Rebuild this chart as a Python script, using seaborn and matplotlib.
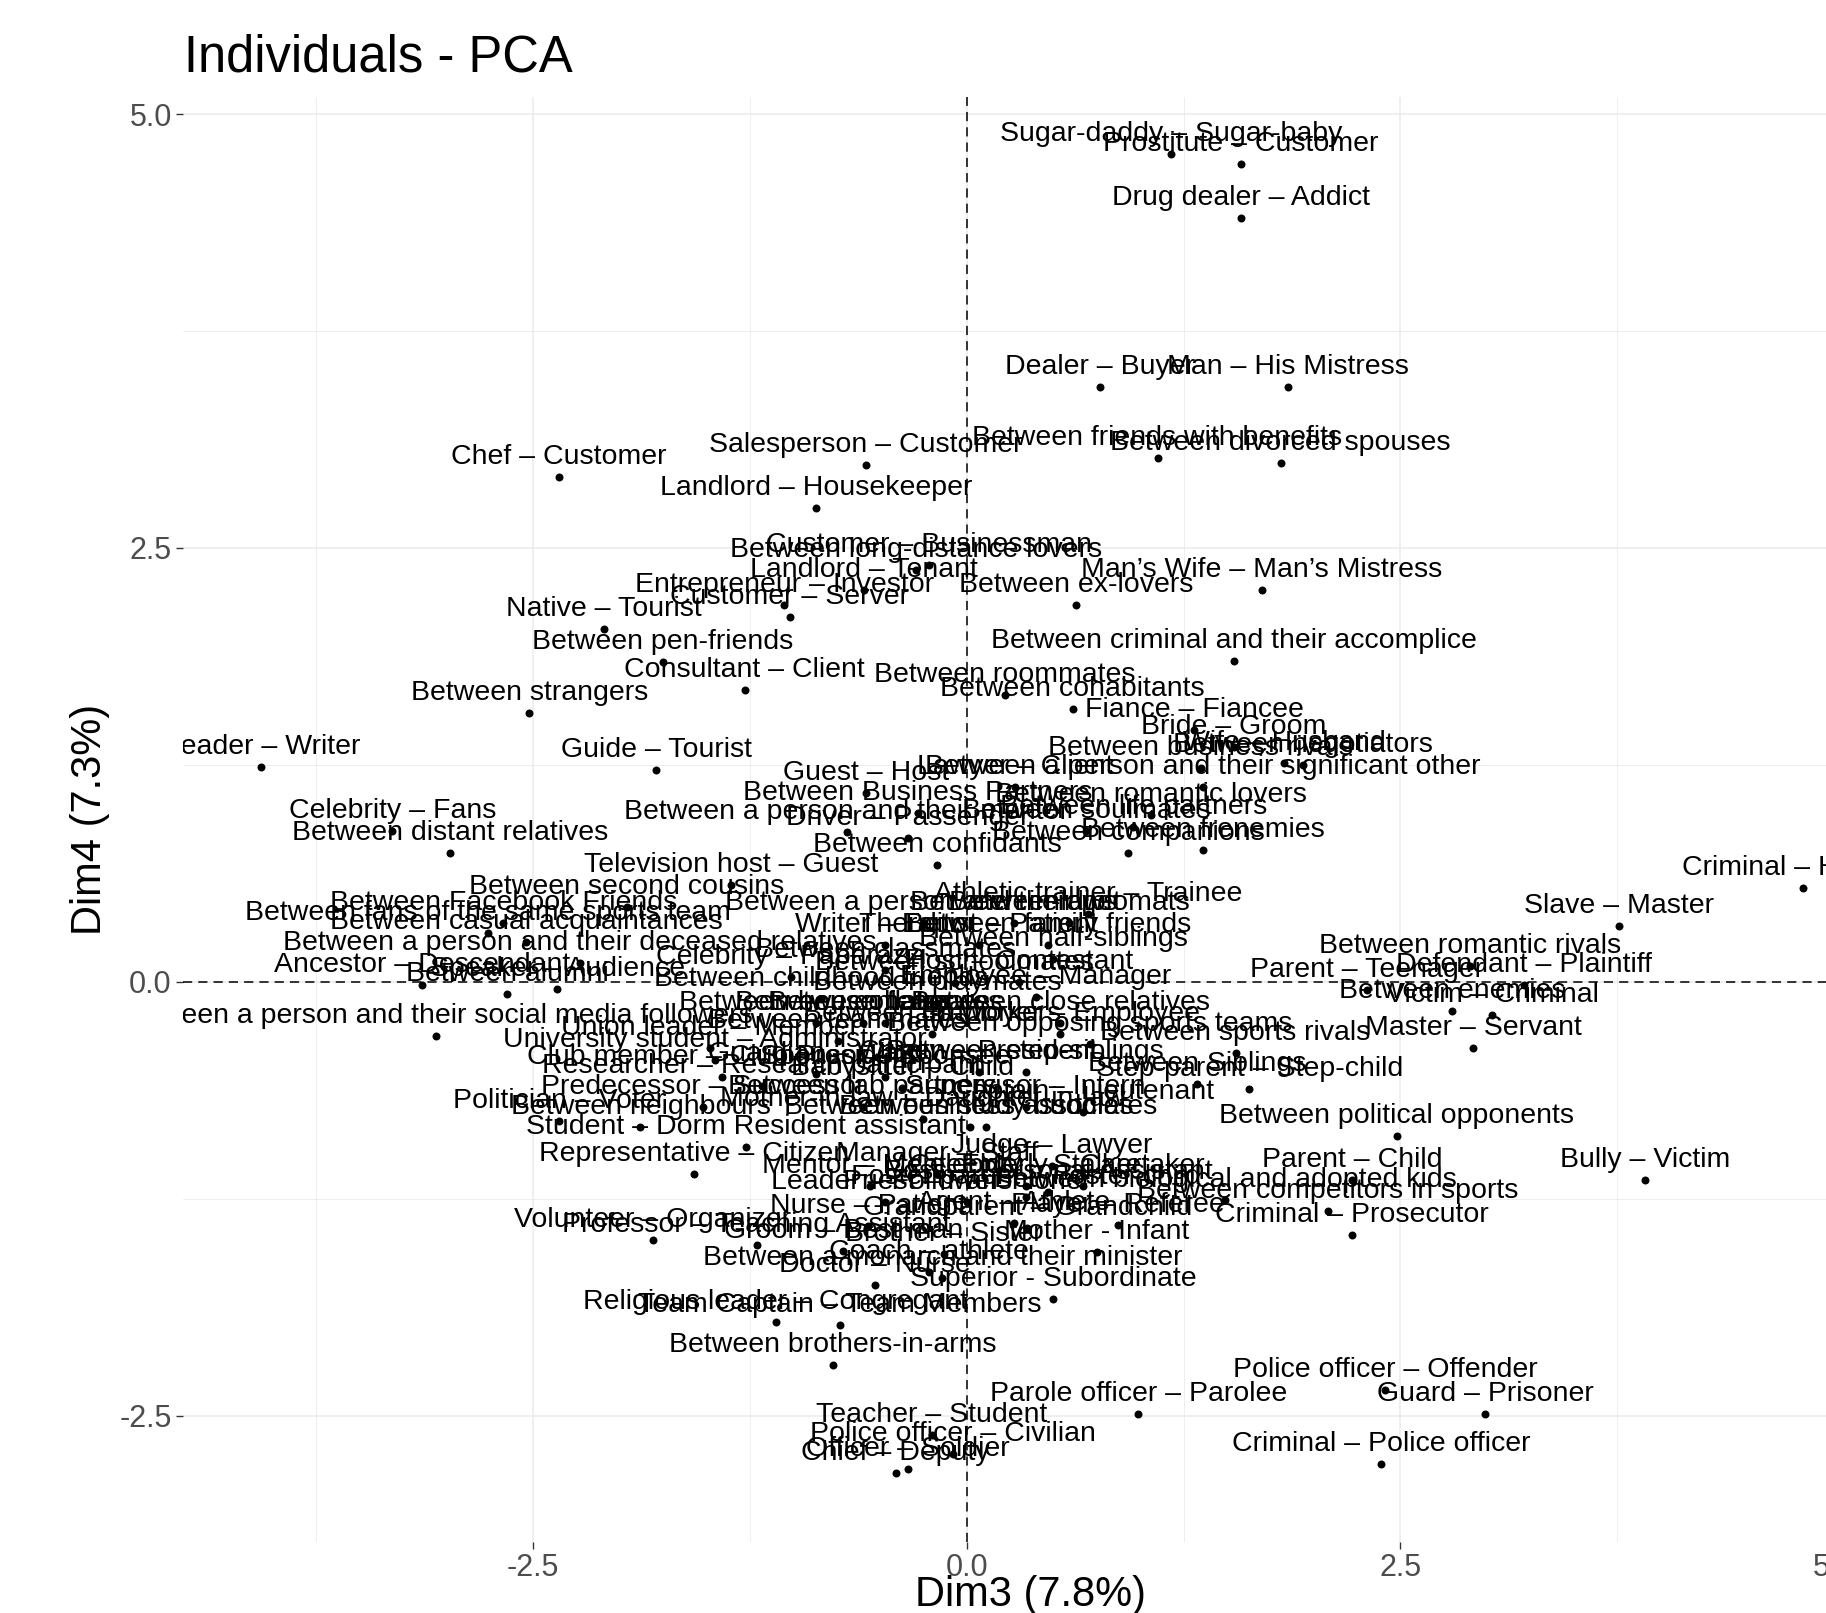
import matplotlib
matplotlib.use("Agg")
import matplotlib.pyplot as plt
import matplotlib.transforms as mtransforms
from matplotlib.ticker import MultipleLocator
import numpy as np
import pandas as pd
import seaborn as sns

sns.set_theme(style="white")
plt.rcParams['font.family'] = ['Liberation Sans', 'DejaVu Sans']

# relaciones y coordenadas en Dim3 / Dim4
relaciones = [
    "Sugar-daddy – Sugar-baby", "Prostitute – Customer", "Drug dealer – Addict",
    "Dealer – Buyer", "Man – His Mistress", "Between friends with benefits",
    "Between divorced spouses", "Chef – Customer", "Salesperson – Customer",
    "Landlord – Housekeeper", "Customer – Businessman", "Between long-distance lovers",
    "Landlord – Tenant", "Man’s Wife – Man’s Mistress", "Between ex-lovers",
    "Entrepreneur – Investor", "Customer – Server", "Native – Tourist",
    "Between pen-friends", "Between criminal and their accomplice", "Consultant – Client",
    "Between roommates", "Between cohabitants", "Between strangers",
    "Fiance – Fiancee", "Bride – Groom", "Reader – Writer",
    "Guide – Tourist", "Between business rivals", "Between negotiators",
    "Wife – Husband", "Between a person and their significant other", "Lawyer – Client",
    "Guest – Host", "Between Business Partners", "Between romantic lovers",
    "Between soulmates", "Between life partners", "Celebrity – Fans",
    "Between a person and their mentor", "Driver – Passenger", "Between companions",
    "Between frenemies", "Between distant relatives", "Between confidants",
    "Television host – Guest", "Criminal – Hostage", "Slave – Master",
    "Between second cousins", "Athletic trainer – Trainee", "Between Facebook Friends",
    "Between fans of the same sports team", "Between casual acquaintances",
    "Between a person and their deceased relatives",
    "Ancestor – Descendant", "Between alumni", "Speaker – Audience",
    "Between a person and their social media followers", "Between romantic rivals",
    "Defendant – Plaintiff", "Parent – Teenager", "Between enemies",
    "Victim – Criminal", "Master – Servant", "Between political opponents",
    "Parent – Child", "Between competitors in sports", "Criminal – Prosecutor",
    "Bully – Victim", "Between sports rivals", "Step-parent – Step-child",
    "Between Siblings", "Police officer – Offender", "Guard – Prisoner",
    "Parole officer – Parolee", "Criminal – Police officer", "Teacher – Student",
    "Police officer – Civilian", "Chief – Deputy", "Officer – Soldier",
    "Between brothers-in-arms", "Religious leader – Congregant", "Team Captain – Team Members",
    "Superior - Subordinate", "Doctor – Nurse", "Coach – athlete",
    "Between a monarch and their minister", "Mother - Infant", "Player – Referee",
    "Grandparent – Grandchild", "Nurse – Patient", "Agent – Athlete",
    "Groom – Best man", "Brother – Sister", "Professor – Teaching Assistant",
    "Volunteer – Organizer", "Foster parent – Foster-child", "Between biological and adopted kids",
    "Leader – Follower", "Priest – Parishioner", "Mentor – Mentee",
    "Manager – Staff", "Celebrity – Stalker", "Elderly – Caretaker",
    "Boss – Personal Assistant", "Judge – Lawyer", "Representative – Citizen",
    "Student – Dorm Resident assistant", "Politician – Voter", "Between neighbours",
    "Between business associates", "Between study buddies", "Mother-in-law – Daughter-in-law",
    "Captain – Lieutenant", "Babysitter – Child", "Predecessor – Successor",
    "Between lab partners", "Supervisor – Intern", "Researcher – Research participant",
    "Club member – Club President", "Citizen – President", "Between step-siblings",
    "University student – Administrator", "Union leader – Member", "Between teammates",
    "Between opposing sports teams", "Employer – Employee", "Between close relatives",
    "Between housemates", "Between colleagues", "Between playmates",
    "Between childhood friends", "Employee – Manager", "Host – Contestant",
    "Between classmates", "Celebrity – Paparazzi", "Between half-siblings",
    "Between family friends", "Therapist – Patient", "Writer – Editor",
    "Between a person and their pet", "Between diplomats", "Between in-laws",
    "Between schoolmates", "Between flatmates", "Between co-workers",
    "Guardian – Ward", "Sponsor – Sponsee",
]

dim3 = [
    1.18, 1.58, 1.58, 0.77, 1.85, 1.10, 1.81, -2.35, -0.58, -0.87,
    -0.22, -0.29, -0.59, 1.70, 0.63, -1.05, -1.02, -2.09, -1.75, 1.54,
    -1.28, 0.22, 0.61, -2.52, 1.31, 1.54, -4.07, -1.79, 1.35, 1.94,
    1.83, 1.36, 0.28, -0.58, -0.28, 1.06, 0.69, 0.96, -3.31, -0.69,
    -0.34, 0.93, 1.36, -2.98, -0.17, -1.36, 4.82, 3.76, -1.96, 0.70,
    -2.67, -2.76, -2.54, -2.23, -3.14, -2.65, -2.36, -3.06, 2.90, 3.21,
    2.31, 2.80, 3.03, 2.92, 2.48, 2.22, 2.08, 2.22, 3.91, 1.55,
    1.63, 1.33, 2.41, 2.99, 0.99, 2.39, -0.20, -0.08, -0.41, -0.34,
    -0.77, -1.10, -0.73, 0.50, -0.53, -0.22, -0.14, 0.75, 0.87, 0.35,
    -0.57, 0.27, -0.71, -0.13, -1.21, -1.81, 0.34, 1.49, -0.47, 0.00,
    -0.56, -0.17, 0.34, 0.67, 0.47, 0.49, -1.57, -1.27, -2.35, -1.88,
    0.02, 0.11, -0.25, 0.67, -0.37, -1.52, -0.60, 0.34, -1.18, -1.41,
    0.07, 0.34, -1.45, -1.48, -0.74, 0.71, 0.54, 0.54, -0.87, -0.60,
    -0.17, -0.84, 0.40, 0.30, -0.47, -1.01, 0.50, 0.47, 0.07, -0.47,
    -0.25, 0.59, 0.27, -0.07, -0.47, -0.20, -0.87, -0.47,
]

dim4 = [
    4.77, 4.71, 4.40, 3.43, 3.43, 3.02, 2.99, 2.91, 2.98, 2.73,
    2.40, 2.37, 2.26, 2.26, 2.17, 2.17, 2.10, 2.03, 1.84, 1.85,
    1.68, 1.65, 1.57, 1.55, 1.45, 1.35, 1.24, 1.22, 1.23, 1.25,
    1.26, 1.12, 1.12, 1.09, 0.97, 0.96, 0.87, 0.89, 0.87, 0.86,
    0.83, 0.74, 0.76, 0.74, 0.67, 0.56, 0.54, 0.32, 0.43, 0.39,
    0.34, 0.28, 0.23, 0.11, -0.02, -0.07, -0.04, -0.31, 0.09, -0.02,
    -0.05, -0.17, -0.19, -0.38, -0.89, -1.14, -1.32, -1.46, -1.14, -0.41,
    -0.62, -0.59, -2.35, -2.49, -2.49, -2.78, -2.61, -2.72, -2.83, -2.81,
    -2.21, -1.96, -1.98, -1.83, -1.75, -1.67, -1.71, -1.56, -1.40, -1.42,
    -1.41, -1.39, -1.55, -1.57, -1.52, -1.49, -1.24, -1.26, -1.27, -1.27,
    -1.18, -1.11, -1.18, -1.18, -1.21, -1.06, -1.11, -0.95, -0.80, -0.84,
    -0.84, -0.84, -0.79, -0.75, -0.61, -0.72, -0.72, -0.72, -0.60, -0.55,
    -0.52, -0.52, -0.45, -0.38, -0.34, -0.36, -0.30, -0.24, -0.24, -0.24,
    -0.12, -0.10, -0.09, 0.00, 0.07, 0.03, 0.13, 0.21, 0.21, 0.21,
    0.34, 0.34, 0.34, -0.01, -0.24, -0.30, -0.53, -0.55,
]

df = pd.DataFrame({'nombre': relaciones, 'Dim3': dim3, 'Dim4': dim4})

fig = plt.figure(figsize=(18.26, 16.13), dpi=100)
ax = fig.add_axes([0.1002, 0.0440, 0.9288, 0.8959])

#Rejilla estilo theme_minimal
ax.set_xlim(-4.517, 5.258)
ax.set_ylim(-3.229, 5.099)
ax.xaxis.set_major_locator(MultipleLocator(2.5))
ax.yaxis.set_major_locator(MultipleLocator(2.5))
ax.xaxis.set_minor_locator(MultipleLocator(1.25))
ax.yaxis.set_minor_locator(MultipleLocator(1.25))
ax.grid(which='major', color='#EBEBEB', linewidth=1.1)
ax.grid(which='minor', color='#EBEBEB', linewidth=0.6)
ax.set_axisbelow(True)
sns.despine(ax=ax, left=True, bottom=True)

ax.axhline(0, color='black', linewidth=1.1, linestyle=(0, (6, 4)), zorder=1)
ax.axvline(0, color='black', linewidth=1.1, linestyle=(0, (6, 4)), zorder=1)

sns.scatterplot(data=df, x='Dim3', y='Dim4', color='black', s=33, linewidth=0, ax=ax, zorder=3)

#Etiquetas encima de cada punto
desplazado = mtransforms.offset_copy(ax.transData, fig=fig, x=0, y=13, units='dots')
for _, fila in df.iterrows():
    ax.text(fila['Dim3'], fila['Dim4'], fila['nombre'], transform=desplazado,
            ha='center', va='baseline', fontsize=20.5, color='black', clip_on=True, zorder=4)

ax.tick_params(axis='both', which='major', labelsize=22, labelcolor='#4D4D4D',
               length=5, width=1, color='#333333', pad=3, left=True, bottom=True)
ax.tick_params(axis='both', which='minor', length=0)
ax.set_xticks([-2.5, 0.0, 2.5, 5.0])
ax.set_xticklabels(['-2.5', '0.0', '2.5', '5.0'])
ax.set_yticks([-2.5, 0.0, 2.5, 5.0])
ax.set_yticklabels(['-2.5', '0.0', '2.5', '5.0'])

ax.set_xlabel('Dim3 (7.8%)', fontsize=30, color='black')
ax.set_ylabel('Dim4 (7.3%)', fontsize=30, color='black')
ax.xaxis.set_label_coords(0.5, -0.037)
ax.xaxis.label.set_verticalalignment('center')
ax.yaxis.set_label_coords(-0.055, 0.5)
ax.yaxis.label.set_verticalalignment('center')

fig.text(0.1008, 0.964, 'Individuals - PCA', fontsize=36.5, ha='left', va='center', color='black')

fig.savefig('out.png', dpi=100)
